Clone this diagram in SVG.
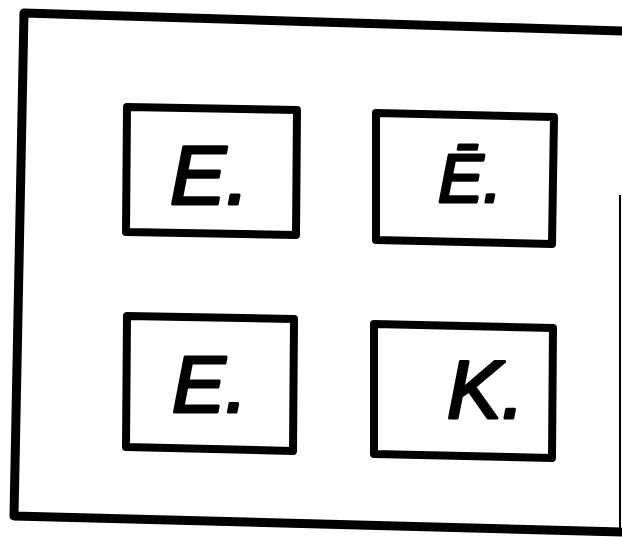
<svg xmlns="http://www.w3.org/2000/svg" width="622" height="537" viewBox="0 0 622 537">
<style>
.frame{fill:none;stroke:#000;stroke-width:9;stroke-linejoin:round;stroke-linecap:round}
.box{fill:none;stroke:#000;stroke-width:8;stroke-linejoin:round}
.lbl{font-family:"Liberation Sans",Arial,sans-serif;font-style:italic;font-weight:normal;fill:#000;stroke:#000;stroke-width:3;stroke-linejoin:round}
</style>
<rect width="622" height="537" fill="#fff"/>
<g id="frame">
<path class="frame" d="M622,31 L24,13 L14,516 L622,532"/>
<line x1="620" y1="195" x2="620" y2="530" stroke="#000" stroke-width="2"/>
</g>
<g id="box1">
<polygon class="box" points="127,107 297,110 296,235 126,232"/>
<text class="lbl" x="170" y="204" font-size="84">E.</text>
</g>
<g id="box2">
<polygon class="box" points="376,113 554,117 552,244 376,240"/>
<text class="lbl" x="438" y="202" font-size="68">Ē.</text>
</g>
<g id="box3">
<polygon class="box" points="127,316 294,319 293,451 126,447"/>
<text class="lbl" x="172" y="412" font-size="80">E.</text>
</g>
<g id="box4">
<polygon class="box" points="374,324 553,328 552,458 374,454"/>
<text class="lbl" x="447" y="418" font-size="82">K.</text>
</g>
<g id="connectors"></g>
</svg>
